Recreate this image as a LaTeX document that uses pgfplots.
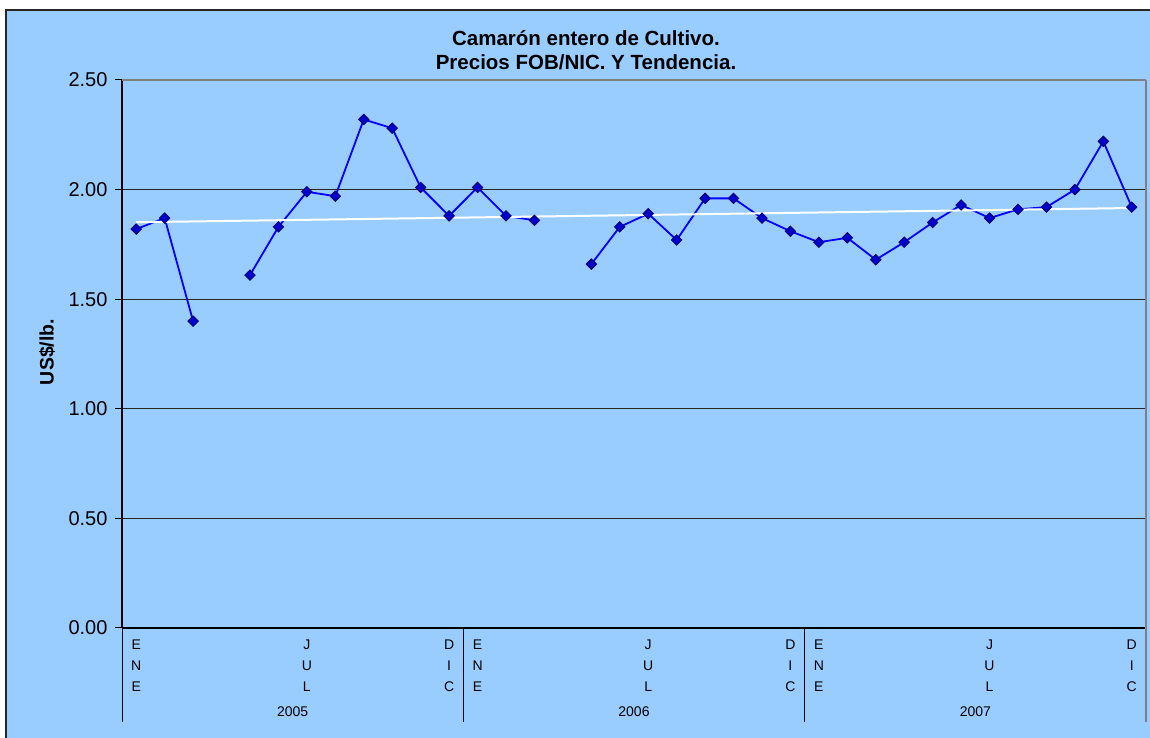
\documentclass[border=0pt]{standalone}
\usepackage{pgfplots}
\pgfplotsset{compat=1.18}
\usepackage{fontspec}
\setmainfont{Liberation Sans}
\definecolor{bg}{HTML}{99CCFF}
\definecolor{serie}{HTML}{0000FF}
\definecolor{markfill}{HTML}{0000CC}
\definecolor{markdraw}{HTML}{000066}
\begin{document}
\begin{tikzpicture}[x=1pt,y=1pt]
\useasboundingbox (0,0) rectangle (1150,738);
\fill[white] (0,0) rectangle (1150,738);
\fill[bg] (6,0) rectangle (1150,728);
\draw[black!85, line width=2pt] (6,-2) -- (6,728) -- (1152,728);
\node[font=\fontsize{20.5}{23}\selectfont\bfseries] at (586,700) {Camarón entero de Cultivo.};
\node[font=\fontsize{20.5}{23}\selectfont\bfseries] at (586,676) {Precios FOB/NIC. Y Tendencia.};
\node[font=\fontsize{19.5}{22}\selectfont\bfseries, rotate=90] at (47,386) {US\$/lb.};
\begin{axis}[
  at={(122pt,110pt)}, anchor=south west,
  scale only axis, width=1024pt, height=548pt,
  xmin=-0.5, xmax=35.5, ymin=0, ymax=2.5,
  axis x line*=bottom, axis y line*=left,
  axis line style={black, line width=1.2pt},
  xtick={0,6,11,12,18,23,24,30,35},
  xticklabels={{E\\N\\E},{J\\U\\L},{D\\I\\C},{E\\N\\E},{J\\U\\L},{D\\I\\C},{E\\N\\E},{J\\U\\L},{D\\I\\C}},
  xticklabel style={align=center, font=\fontsize{14}{21}\selectfont, yshift=-1.5pt},
  xtick style={draw=none},
  ytick={0,0.5,1,1.5,2,2.5},
  yticklabel style={font=\fontsize{20}{22}\selectfont, xshift=-4pt, /pgf/number format/.cd, fixed, fixed zerofill, precision=2, assume math mode=true},
  ytick style={black, line width=1pt},
  major tick length=7pt, tick align=outside,
  ymajorgrids, grid style={black!85, line width=1.2pt},
  unbounded coords=jump,
  clip=false,
]
\addplot[serie, line width=1.8pt, mark=square*, mark size=3.7pt,
  mark options={fill=markfill, draw=markdraw, line width=0.8pt, solid, rotate=45}] coordinates {
(0,1.82) (1,1.87) (2,1.40) (3,nan) (4,1.61) (5,1.83) (6,1.99) (7,1.97) (8,2.32) (9,2.28) (10,2.01) (11,1.88)
(12,2.01) (13,1.88) (14,1.86) (15,nan) (16,1.66) (17,1.83) (18,1.89) (19,1.77) (20,1.96) (21,1.96) (22,1.87) (23,1.81)
(24,1.76) (25,1.78) (26,1.68) (27,1.76) (28,1.85) (29,1.93) (30,1.87) (31,1.91) (32,1.92) (33,2.00) (34,2.22) (35,1.92)
};
\addplot[white, line width=2pt] coordinates {(0,1.851) (35,1.916)};
\draw[gray, line width=1.8pt] (axis cs:-0.5,2.5) -- (axis cs:35.5,2.5);
\draw[gray, line width=1.5pt] (axis cs:35.5,2.5) -- (axis cs:35.5,0) -- ++(0pt,-94pt);
\draw[black, line width=1pt] (axis cs:-0.5,0) -- ++(0pt,-94pt);
\draw[black, line width=1pt] (axis cs:11.5,0) -- ++(0pt,-94pt);
\draw[black, line width=1pt] (axis cs:23.5,0) -- ++(0pt,-94pt);
\node[font=\fontsize{14}{16}\selectfont] at ([yshift=-84pt]axis cs:5.5,0) {2005};
\node[font=\fontsize{14}{16}\selectfont] at ([yshift=-84pt]axis cs:17.5,0) {2006};
\node[font=\fontsize{14}{16}\selectfont] at ([yshift=-84pt]axis cs:29.5,0) {2007};
\end{axis}
\end{tikzpicture}
\end{document}
